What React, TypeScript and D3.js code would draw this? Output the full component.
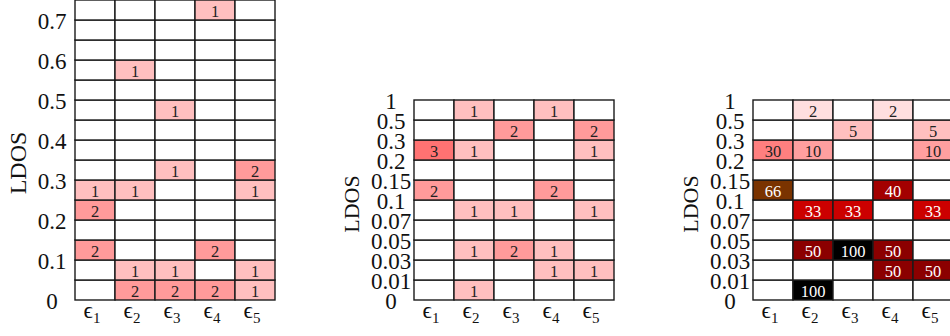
import React from 'react';
import * as d3 from 'd3';

// column categories shared by all three panels
const epsilons = ['1', '2', '3', '4', '5'];

// panel 1: LDOS bins of width 0.05 from 0 to 0.75 (rows listed bottom to top)
const p1Edges = [0, 0.05, 0.1, 0.15, 0.2, 0.25, 0.3, 0.35, 0.4, 0.45, 0.5, 0.55, 0.6, 0.65, 0.7, 0.75];
const p1Ticks = [0, 0.1, 0.2, 0.3, 0.4, 0.5, 0.6, 0.7];
const p1Counts = [
  [0, 2, 2, 2, 1],
  [0, 1, 1, 0, 1],
  [2, 0, 0, 2, 0],
  [0, 0, 0, 0, 0],
  [2, 0, 0, 0, 0],
  [1, 1, 0, 0, 1],
  [0, 0, 1, 0, 2],
  [0, 0, 0, 0, 0],
  [0, 0, 0, 0, 0],
  [0, 0, 1, 0, 0],
  [0, 0, 0, 0, 0],
  [0, 1, 0, 0, 0],
  [0, 0, 0, 0, 0],
  [0, 0, 0, 0, 0],
  [0, 0, 0, 1, 0],
];

// panels 2 and 3: uneven LDOS bins
const binEdgeLabels = ['0', '0.01', '0.03', '0.05', '0.07', '0.1', '0.15', '0.2', '0.3', '0.5', '1'];
const p2Counts = [
  [0, 1, 0, 0, 0],
  [0, 0, 0, 1, 1],
  [0, 1, 2, 1, 0],
  [0, 0, 0, 0, 0],
  [0, 1, 1, 0, 1],
  [2, 0, 0, 2, 0],
  [0, 0, 0, 0, 0],
  [3, 1, 0, 0, 1],
  [0, 0, 2, 0, 2],
  [0, 1, 0, 1, 0],
];
const p3Percent = [
  [0, 100, 0, 0, 0],
  [0, 0, 0, 50, 50],
  [0, 50, 100, 50, 0],
  [0, 0, 0, 0, 0],
  [0, 33, 33, 0, 33],
  [66, 0, 0, 40, 0],
  [0, 0, 0, 0, 0],
  [30, 10, 0, 0, 10],
  [0, 0, 5, 0, 5],
  [0, 2, 0, 2, 0],
];

const countColor = d3.scaleOrdinal<number, string>()
  .domain([1, 2, 3])
  .range(['#ffbfbf', '#ff9a9a', '#ff7272']);
const pctColor = d3.scaleOrdinal<number, string>()
  .domain([2, 5, 10, 30, 33, 40, 50, 66, 100])
  .range(['#ffdfdf', '#ffbfbf', '#ff9f9f', '#ff7f7f', '#cc0000', '#a30000', '#8b0000', '#7a3300', '#000000']);
const pctText = (v: number) => (v >= 33 ? '#ffffff' : '#222222');

const FONT = '"Liberation Serif", "DejaVu Serif", serif';

interface PanelProps {
  left: number;
  top: number;
  bottom: number;
  rows: number[][];
  yDomain: [number, number];
  rowLo: (k: number) => number;
  ticks: { v: number; label: string }[];
  fill: (v: number) => string;
  textFill: (v: number) => string;
  ldosX: number;
  ldosY: number;
  ldosSize: number;
}

const Panel: React.FC<PanelProps> = (p) => {
  const x = d3.scaleBand<string>().domain(epsilons).range([p.left, p.left + 200]);
  const y = d3.scaleLinear().domain(p.yDomain).range([p.bottom, p.top]);
  const cells: { c: number; k: number; v: number }[] = [];
  p.rows.forEach((row, k) => row.forEach((v, c) => cells.push({ c, k, v })));
  return (
    <g>
      {cells.map(({ c, k, v }) => {
        const x0 = x(epsilons[c]) as number;
        const y1 = y(p.rowLo(k));
        const y0 = y(p.rowLo(k + 1));
        return (
          <g key={`${c}-${k}`}>
            <rect x={x0} y={y0} width={x.bandwidth()} height={y1 - y0}
              fill={v ? p.fill(v) : '#ffffff'} stroke="#1a1a1a" strokeWidth={1.4} />
            {v ? (
              <text x={x0 + x.bandwidth() / 2} y={(y0 + y1) / 2 + 6.5} textAnchor="middle"
                fontSize={16.5} fill={p.textFill(v)}>{v}</text>
            ) : null}
          </g>
        );
      })}
      {p.ticks.map((t) => (
        <text key={t.label} x={p.left - 23} y={y(t.v) + 8.5} textAnchor="middle" fontSize={23} fill="#111">
          {t.label}
        </text>
      ))}
      {epsilons.map((e) => (
        <text key={e} x={(x(e) as number) + x.bandwidth() / 2 - 3} y={318} textAnchor="middle" fontSize={23} fill="#111">
          {'\u03f5'}
          <tspan fontSize={15} dy={5}>{e}</tspan>
        </text>
      ))}
      <text transform={`translate(${p.ldosX},${p.ldosY}) rotate(-90)`} textAnchor="middle"
        fontSize={p.ldosSize} fill="#111" dy="0.35em">LDOS</text>
    </g>
  );
};

const App: React.FC = () => {
  const binTicks = binEdgeLabels.map((label, i) => ({ v: i, label }));
  return (
    <div style={{ position: 'absolute', left: 0, top: 0 }}>
      <svg width={950} height={336} style={{ display: 'block', fontFamily: FONT }}>
        <rect width={950} height={336} fill="#ffffff" />
        <Panel left={75} top={0} bottom={300} rows={p1Counts}
          yDomain={[0, 0.75]} rowLo={(k) => p1Edges[k]}
          ticks={p1Ticks.map((v) => ({ v, label: String(v) }))}
          fill={countColor} textFill={() => '#222222'}
          ldosX={18} ldosY={163} ldosSize={24} />
        <Panel left={414} top={100} bottom={300} rows={p2Counts}
          yDomain={[0, binEdgeLabels.length - 1]} rowLo={(k) => k}
          ticks={binTicks} fill={countColor} textFill={() => '#222222'}
          ldosX={351} ldosY={204} ldosSize={22} />
        <Panel left={753} top={100} bottom={300} rows={p3Percent}
          yDomain={[0, binEdgeLabels.length - 1]} rowLo={(k) => k}
          ticks={binTicks} fill={pctColor} textFill={pctText}
          ldosX={690} ldosY={204} ldosSize={22} />
      </svg>
    </div>
  );
};

export default App;
